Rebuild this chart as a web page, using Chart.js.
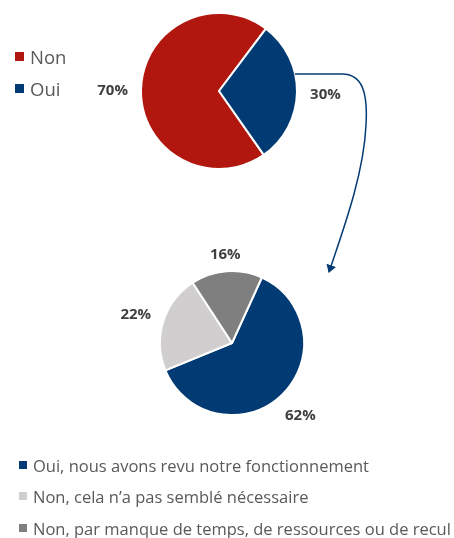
<!DOCTYPE html>
<html>
<head>
<meta charset="utf-8">
<script src="https://cdn.jsdelivr.net/npm/chart.js@4.4.1/dist/chart.umd.min.js"></script>
<style>
  body { margin: 0; background: #fff; width: 454px; height: 538px; position: relative; overflow: hidden; font-family: "Open Sans", sans-serif; }
  canvas, svg { position: absolute; }
  .leg { position: absolute; color: #595959; white-space: nowrap; display: flex; align-items: center; }
  .leg span.sq { display: inline-block; margin-right: 6px; flex: none; }
</style>
</head>
<body>
<canvas id="pieTop" width="260" height="182" style="left:89px;top:0px"></canvas>
<canvas id="pieBottom" width="260" height="220" style="left:102px;top:233px"></canvas>
<svg width="454" height="538" style="left:0;top:0">
  <defs>
    <marker id="tete" markerWidth="8" markerHeight="10" refX="7" refY="5" orient="auto" markerUnits="userSpaceOnUse">
      <path d="M0,0 L8,5 L0,10 Z" fill="#023B73"></path>
    </marker>
  </defs>
  <path d="M295 74 L342 74 C362 74 368 92 366 125 C364 172 345 225 329 272" fill="none" stroke="#023B73" stroke-width="1.5" marker-end="url(#tete)"></path>
</svg>
<div id="legendes"></div>
<script>
const labelsHaut = ['Non', 'Oui'];
const valeursHaut = [70, 30];
const couleursHaut = ['#B2170F', '#023B73'];

const labelsBas = [
  'Oui, nous avons revu notre fonctionnement',
  'Non, cela n\u2019a pas semblé nécessaire',
  'Non, par manque de temps, de ressources ou de recul'
];
const valeursBas = [62, 22, 16];
const couleursBas = ['#023B73', '#D0CECE', '#7F7F7F'];

// pourcentages posés juste à l'extérieur de chaque part
const etiquettesPourcent = {
  id: 'etiquettesPourcent',
  afterDatasetsDraw(chart) {
    const ctx = chart.ctx;
    const meta = chart.getDatasetMeta(0);
    const valeurs = chart.data.datasets[0].data;
    ctx.save();
    ctx.font = 'bold 15px "Open Sans"';
    ctx.fillStyle = '#404040';
    ctx.textAlign = 'center';
    ctx.textBaseline = 'middle';
    meta.data.forEach((arc, i) => {
      const p = arc.getProps(['x', 'y', 'startAngle', 'endAngle', 'outerRadius'], true);
      const milieu = (p.startAngle + p.endAngle) / 2;
      const texte = valeurs[i] + '%';
      const w = ctx.measureText(texte).width;
      const ext = Math.abs(Math.cos(milieu)) * w / 2 + Math.abs(Math.sin(milieu)) * 4;
      const d = p.outerRadius + 13 + ext;
      ctx.fillText(texte, p.x + Math.cos(milieu) * d, p.y + Math.sin(milieu) * d + 2);
    });
    ctx.restore();
  }
};

function creerCamembert(id, labels, valeurs, couleurs, rotation, padding) {
  new Chart(document.getElementById(id).getContext('2d'), {
    type: 'pie',
    data: {
      labels: labels,
      datasets: [{
        data: valeurs,
        backgroundColor: couleurs,
        borderColor: '#fff',
        borderWidth: 2
      }]
    },
    options: {
      responsive: false,
      devicePixelRatio: 1,
      animation: false,
      rotation: rotation,
      layout: { padding: padding },
      plugins: { legend: { display: false }, tooltip: { enabled: false } }
    },
    plugins: [etiquettesPourcent]
  });
}

creerCamembert('pieTop', labelsHaut, valeursHaut, couleursHaut, 145, { top: 12, bottom: 12, left: 51, right: 51 });
creerCamembert('pieBottom', labelsBas, valeursBas, couleursBas, 24.5, { top: 37, bottom: 37, left: 57, right: 57 });

function ajouterLegende(labels, couleurs, x, ys, taille, carre) {
  const conteneur = document.getElementById('legendes');
  labels.forEach((label, i) => {
    const div = document.createElement('div');
    div.className = 'leg';
    div.style.left = x + 'px';
    div.style.top = (ys[i] - 12) + 'px';
    div.style.height = '24px';
    div.style.fontSize = taille + 'px';
    div.innerHTML = `<span class="sq" style="width:${carre}px;height:${carre}px;background:${couleurs[i]}"></span>`;
    div.appendChild(document.createTextNode(label));
    conteneur.appendChild(div);
  });
}

ajouterLegende(labelsHaut, couleursHaut, 15, [56, 88], 18.5, 9);
ajouterLegende(labelsBas, couleursBas, 19, [465, 496, 528], 16.5, 8);
</script>
</body>
</html>
